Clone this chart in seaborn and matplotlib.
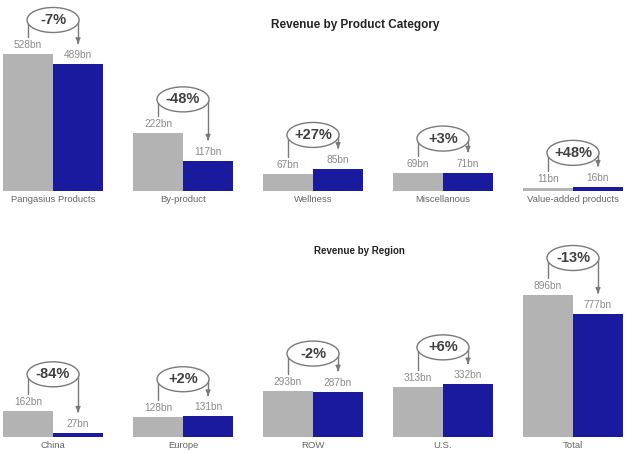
import matplotlib
matplotlib.use("Agg")
import matplotlib.pyplot as plt
import matplotlib.transforms as mtransforms
from matplotlib.patches import Ellipse, FancyArrowPatch
from matplotlib.lines import Line2D
import seaborn as sns
import pandas as pd

# ---------------- data ----------------
product_categories = ["Pangasius Products", "By-product", "Wellness", "Miscellanous", "Value-added products"]
product_prev = [528, 222, 67, 69, 11]
product_curr = [489, 117, 85, 71, 16]
product_change = ["-7%", "-48%", "+27%", "+3%", "+48%"]

region_categories = ["China", "Europe", "ROW", "U.S.", "Total"]
region_prev = [162, 128, 293, 313, 896]
region_curr = [27, 131, 287, 332, 777]
region_change = ["-84%", "+2%", "-2%", "+6%", "-13%"]

period_names = ["Previous", "Current"]

# ---------------- style ----------------
sns.set_theme(style="white")
plt.rcParams["font.family"] = ["Liberation Sans", "DejaVu Sans"]

GREY = "#b3b3b3"
BLUE = "#1a1a9e"
LABEL_C = "#8a8a8a"
CAT_C = "#666666"
PCT_C = "#404040"
LINE_C = "#7a7a7a"
TITLE_C = "#252423"

W, H = 630, 454
fig = plt.figure(figsize=(W / 100, H / 100), dpi=100)
fig.patch.set_facecolor("white")

# transform for figure coordinates given in top-left pixel units
pix = mtransforms.Affine2D().scale(1 / W, -1 / H).translate(0, 1) + fig.transFigure


def px_axes(l, t, r, b):
    return fig.add_axes([l / W, 1 - b / H, (r - l) / W, (b - t) / H])


def to_pix(ax, x, y):
    disp = ax.transData.transform((x, y))
    fx, fy = fig.transFigure.inverted().transform(disp)
    return fx * W, (1 - fy) * H


def panel(ax, cats, prev, curr, changes, ymax, ell_off):
    df = pd.DataFrame({
        "category": cats * 2,
        "period": [period_names[0]] * len(cats) + [period_names[1]] * len(cats),
        "value": prev + curr,
    })
    sns.barplot(data=df, x="category", y="value", hue="period",
                palette=[GREY, BLUE], width=0.77, saturation=1,
                linewidth=0, legend=False, ax=ax, order=cats,
                hue_order=period_names)
    ax.set_xlim(-0.385, len(cats) - 1 + 0.385)
    ax.set_ylim(0, ymax)
    for s in ax.spines.values():
        s.set_visible(False)
    ax.set_yticks([])
    ax.set_xlabel("")
    ax.set_ylabel("")
    ax.tick_params(axis="x", length=0, pad=3, labelsize=6.8, labelcolor=CAT_C)
    ax.set_facecolor("none")

    n = len(cats)
    bars = [p for p in ax.patches if p.get_width() > 0]
    bars = sorted(bars, key=lambda p: p.get_x())
    for i in range(n):
        pg, pb = bars[2 * i], bars[2 * i + 1]
        xg = pg.get_x() + pg.get_width() / 2
        xb = pb.get_x() + pb.get_width() / 2
        hg, hb = pg.get_height(), pb.get_height()
        # value labels
        gx, gy = to_pix(ax, xg, hg)
        bx, by = to_pix(ax, xb, hb)
        lg_y = gy - 9
        lb_y = by - 9
        fig.text(gx / W, 1 - lg_y / H, f"{prev[i]}bn", ha="center", va="center",
                 fontsize=7.3, color=LABEL_C)
        fig.text(bx / W, 1 - lb_y / H, f"{curr[i]}bn", ha="center", va="center",
                 fontsize=7.3, color=LABEL_C)
        # bracket
        top = min(gy, by)
        ey = top - ell_off
        ecx = (gx + bx) / 2
        left_end = lg_y - 8
        right_end = lb_y - 9
        ln = Line2D([gx, gx, bx, bx], [left_end, ey, ey, right_end - 4],
                    transform=pix, color=LINE_C, lw=1.0)
        ln.set_zorder(5)
        fig.add_artist(ln)
        arr = FancyArrowPatch((bx, right_end - 6), (bx, right_end),
                              transform=pix, arrowstyle="-|>",
                              mutation_scale=7, color=LINE_C, lw=1.0)
        arr.set_zorder(5)
        fig.add_artist(arr)
        el = Ellipse((ecx, ey), bx - gx + 2, 25, transform=pix,
                     facecolor="white", edgecolor=LINE_C, lw=1.0)
        el.set_zorder(6)
        fig.add_artist(el)
        fig.text(ecx / W, 1 - ey / H, changes[i], ha="center", va="center",
                 fontsize=10.5, fontweight="bold", color=PCT_C, zorder=7)


ax1 = px_axes(3, 40, 623, 191)
panel(ax1, product_categories, product_prev, product_curr, product_change,
      ymax=528 * 151 / 137, ell_off=34)

ax2 = px_axes(3, 270, 623, 437)
panel(ax2, region_categories, region_prev, region_curr, region_change,
      ymax=896 * 167 / 142, ell_off=37)

fig.text(355 / W, 1 - 25 / H, "Revenue by Product Category", ha="center", va="center",
         fontsize=8.5, fontweight="bold", color=TITLE_C)
fig.text(359 / W, 1 - 251 / H, "Revenue by Region", ha="center", va="center",
         fontsize=7, fontweight="bold", color=TITLE_C)

fig.savefig("out.png", dpi=100, facecolor="white")
